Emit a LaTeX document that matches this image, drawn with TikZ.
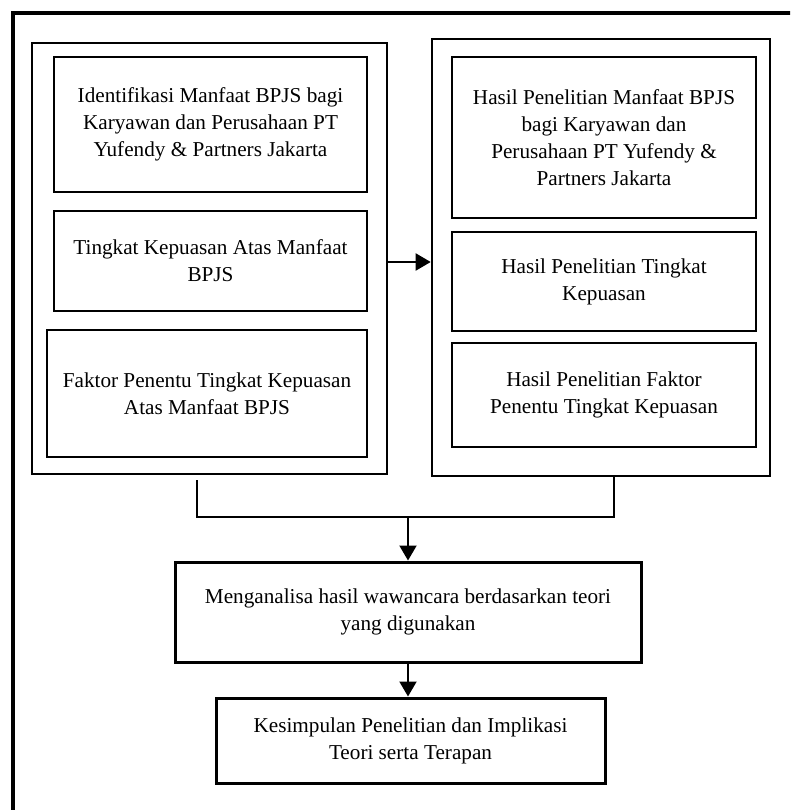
\documentclass[tikz,border=0pt]{standalone}
\usepackage{fontspec}
\setmainfont{Liberation Serif}
\usetikzlibrary{arrows.meta}
\tikzset{
    txt/.style={align=center, inner sep=0pt, font=\fontsize{21.2pt}{27pt}\selectfont},
    inbox/.style={txt, draw, line width=1.3pt},
    grpbox/.style={draw, line width=2.6pt, inner sep=0pt},
    mainbox/.style={txt, draw, line width=3pt},
    arr/.style={line width=2pt, -{Triangle[length=15pt,width=17pt]}}
}
\begin{document}
\begin{tikzpicture}[x=1pt, y=-1pt]
    \clip (0,0) rectangle (790,810);
    \fill[white] (0,0) rectangle (790,810);
    \draw[line width=3.6pt] (13,830) -- (13,13) -- (810,13);

    \node[grpbox, minimum width=355pt, minimum height=431pt] (leftgrp) at (209.5,258.5) {};
    \node[inbox, minimum width=313pt, minimum height=135pt] (ident) at (210.5,124.5)
        {Identifikasi Manfaat BPJS bagi\\Karyawan dan Perusahaan PT\\Yufendy \& Partners Jakarta};
    \node[inbox, minimum width=313pt, minimum height=100pt] (tingkat) at (210.5,261)
        {Tingkat Kepuasan Atas Manfaat\\BPJS};
    \node[inbox, minimum width=320pt, minimum height=127pt] (faktor) at (207,393.5)
        {Faktor Penentu Tingkat Kepuasan\\Atas Manfaat BPJS};

    \node[grpbox, minimum width=338pt, minimum height=437pt] (rightgrp) at (601,257.5) {};
    \node[inbox, minimum width=304pt, minimum height=161pt] (hasilmanfaat) at (604,137.5)
        {Hasil Penelitian Manfaat BPJS\\bagi Karyawan dan\\Perusahaan PT Yufendy \&\\Partners Jakarta};
    \node[inbox, minimum width=304pt, minimum height=99pt] (hasiltingkat) at (604,281.5)
        {Hasil Penelitian Tingkat\\Kepuasan};
    \node[inbox, minimum width=304pt, minimum height=104pt] (hasilfaktor) at (604,395)
        {Hasil Penelitian Faktor\\Penentu Tingkat Kepuasan};

    \node[mainbox, minimum width=466pt, minimum height=100pt] (analisa) at (408,612)
        {Menganalisa hasil wawancara berdasarkan teori\\yang digunakan};
    \node[mainbox, minimum width=389pt, minimum height=85pt] (simpul) at (410.5,740.5)
        {Kesimpulan Penelitian dan Implikasi\\Teori serta Terapan};

    \coordinate (brl) at (197,517);
    \coordinate (brr) at (614,517);
    \coordinate (brm) at (analisa.north |- brl);
    \coordinate (arrl) at ([yshift=-3.5pt]leftgrp.east);

    \draw[arr] (arrl) -- (arrl -| rightgrp.west);
    \draw[line width=2pt] ([yshift=-5pt]brl |- leftgrp.south) -- (brl) -- (brr) -- (brr |- rightgrp.south);
    \draw[arr] (brm) -- (analisa.north);
    \draw[arr] (analisa.south) -- (analisa.south |- simpul.north);
\end{tikzpicture}
\end{document}
